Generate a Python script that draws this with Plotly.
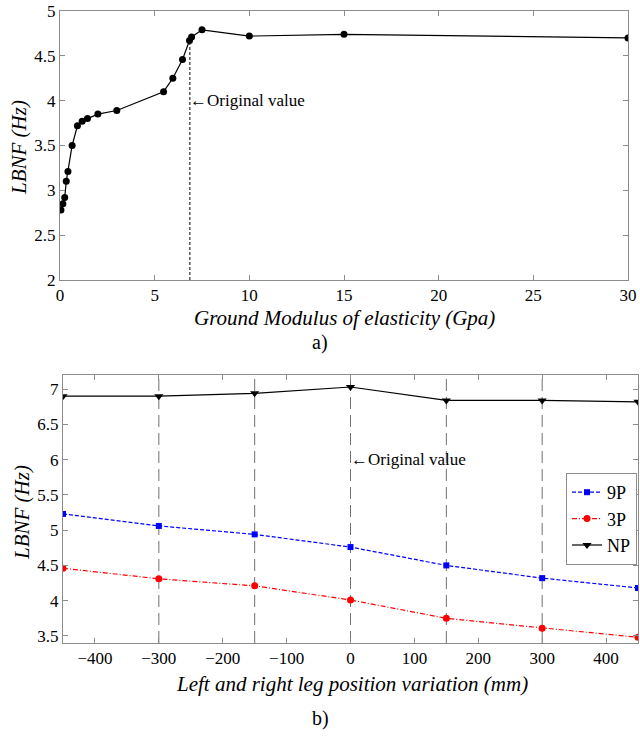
import plotly.graph_objects as go

# ---- Panel a) data ----
modulus_gpa = [0.05, 0.15, 0.25, 0.33, 0.42, 0.64, 0.92, 1.17, 1.45, 2.0, 3.0, 5.47,
               5.96, 6.47, 6.84, 6.95, 7.5, 10.0, 15.0, 30.0]
lbnf_a = [2.78, 2.85, 2.92, 3.10, 3.21, 3.50, 3.72, 3.77, 3.80, 3.85, 3.89, 4.10,
          4.25, 4.46, 4.67, 4.71, 4.79, 4.72, 4.74, 4.70]
original_modulus = 6.86
original_lbnf_a = 4.68

# ---- Panel b) data ----
leg_pos = [-450, -300, -150, 0, 150, 300, 450]
lbnf_9p = [5.23, 5.06, 4.94, 4.76, 4.50, 4.32, 4.18]
lbnf_3p = [4.46, 4.31, 4.21, 4.01, 3.75, 3.61, 3.48]
lbnf_np = [6.90, 6.90, 6.94, 7.03, 6.84, 6.84, 6.82]
grid_pos = [-300, -150, 0, 150, 300]
original_pos = 0

FONT = "Liberation Serif, Times New Roman, Times, serif"
AX = "#8c8c8c"

W, H = 640, 738


def px(x):
    return x / W


def py(y):
    return 1 - y / H


fig = go.Figure()

fig.add_trace(go.Scatter(x=modulus_gpa, y=lbnf_a, mode="lines+markers",
                         line=dict(color="black", width=1.2),
                         marker=dict(symbol="circle", size=7, color="black"),
                         showlegend=False, xaxis="x", yaxis="y"))

fig.add_trace(go.Scatter(x=leg_pos, y=lbnf_9p, mode="lines+markers", name="9P",
                         line=dict(color="#0000ff", width=1.2, dash="4px,2px"),
                         marker=dict(symbol="square", size=6, color="#0000ff"),
                         xaxis="x2", yaxis="y2"))
fig.add_trace(go.Scatter(x=leg_pos, y=lbnf_3p, mode="lines+markers", name="3P",
                         line=dict(color="#ff0000", width=1.2, dash="5px,2px,1px,2px"),
                         marker=dict(symbol="circle", size=7, color="#ff0000"),
                         xaxis="x2", yaxis="y2"))
fig.add_trace(go.Scatter(x=leg_pos, y=lbnf_np, mode="lines+markers", name="NP",
                         line=dict(color="black", width=1.2),
                         marker=dict(symbol="triangle-down", size=8, color="black"),
                         xaxis="x2", yaxis="y2"))

# dashed line for original value (panel a)
fig.add_shape(type="line", xref="x", yref="y", x0=original_modulus, x1=original_modulus,
              y0=2, y1=original_lbnf_a, line=dict(color="black", width=1, dash="3px,2px"))

# dashed vertical lines panel b
for gx in grid_pos:
    fig.add_shape(type="line", xref="x2", yref="y2 domain", x0=gx, x1=gx, y0=0, y1=1,
                  line=dict(color="#707070", width=1, dash="12px,6px"), layer="below")

fig.add_annotation(x=original_modulus, y=4.0, xref="x", yref="y", text="\u2190Original value",
                   showarrow=False, xanchor="left", yanchor="middle", xshift=-2,
                   font=dict(family=FONT, size=17, color="black"))
fig.add_annotation(x=original_pos, y=6.0, xref="x2", yref="y2", text="\u2190Original value",
                   showarrow=False, xanchor="left", yanchor="middle", xshift=-2,
                   font=dict(family=FONT, size=17, color="black"))

# axis titles and panel labels
TF = dict(family=FONT, size=21, color="black")
C = dict(xref="paper", yref="paper", showarrow=False, xanchor="center", yanchor="middle")
fig.add_annotation(x=px(344), y=py(318), text="<i>Ground Modulus of elasticity (Gpa)</i>",
                   font=TF, **C)
fig.add_annotation(x=px(19), y=py(148), textangle=-90, text="<i>LBNF (Hz)</i>", font=TF, **C)
fig.add_annotation(x=px(352), y=py(684), text="<i>Left and right leg position variation (mm)</i>",
                   font=TF, **C)
fig.add_annotation(x=px(22), y=py(513), textangle=-90, text="<i>LBNF (Hz)</i>", font=TF, **C)

fig.add_annotation(x=px(320), y=py(343), text="a)",
                   font=dict(family=FONT, size=20, color="black"), **C)
fig.add_annotation(x=px(320), y=py(718), text="b)",
                   font=dict(family=FONT, size=20, color="black"), **C)

axis_common = dict(showline=True, mirror="ticks", linecolor=AX, linewidth=1,
                   ticks="inside", ticklen=5, tickcolor=AX, showgrid=False,
                   zeroline=False, automargin=False,
                   tickfont=dict(family=FONT, size=17, color="black"))

fig.update_layout(
    width=W, height=H,
    margin=dict(l=0, r=0, t=0, b=0),
    paper_bgcolor="white", plot_bgcolor="white",
    font=dict(family=FONT, color="black"),
    xaxis=dict(domain=[px(60), px(628)], anchor="y", range=[0, 30], dtick=5, **axis_common),
    yaxis=dict(domain=[py(280), py(11)], anchor="x", range=[2, 5], dtick=0.5, **axis_common),
    xaxis2=dict(domain=[px(63), px(638)], anchor="y2", range=[-450, 450], dtick=100,
                **axis_common),
    yaxis2=dict(domain=[py(643), py(375)], anchor="x2", range=[3.4, 7.2],
                tickvals=[3.5, 4, 4.5, 5, 5.5, 6, 6.5, 7], **axis_common),
    legend=dict(x=px(566), y=py(473), xanchor="left", yanchor="top",
                bordercolor=AX, borderwidth=1, bgcolor="white",
                font=dict(family=FONT, size=18), tracegroupgap=0, itemwidth=30),
)

fig.write_html("out.html", config={"displayModeBar": False},
               post_script="document.body.style.margin='0px';document.body.style.overflow='hidden';")
